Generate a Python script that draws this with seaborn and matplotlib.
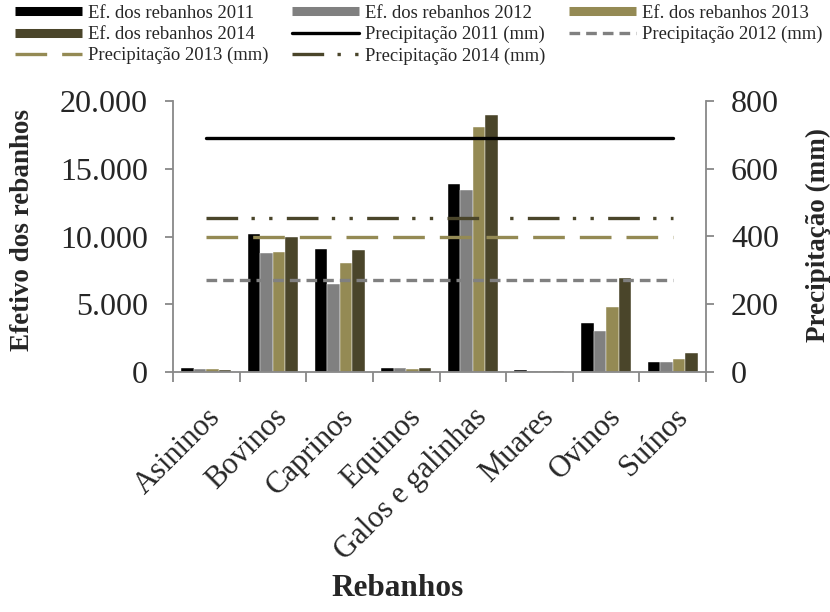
import matplotlib
matplotlib.use("Agg")
import matplotlib.pyplot as plt
from matplotlib.lines import Line2D
from matplotlib.ticker import FuncFormatter, FixedLocator
import numpy as np
import pandas as pd
import seaborn as sns

# Herd counts per category and year
categorias = ["Asininos", "Bovinos", "Caprinos", "Equinos", "Galos e galinhas",
              "Muares", "Ovinos", "Suínos"]
anos = ["2011", "2012", "2013", "2014"]
rebanho_2011 = [300, 10170, 9060, 300, 13870, 120, 3650, 740]
rebanho_2012 = [250, 8790, 6480, 300, 13400, 100, 3000, 710]
rebanho_2013 = [200, 8890, 8030, 250, 18050, 100, 4830, 960]
rebanho_2014 = [170, 9980, 8990, 320, 18990, 70, 6970, 1400]

# Annual rainfall (mm)
precipitacao = [690, 273, 398, 455]

cores = ["#000000", "#808080", "#948A54", "#4A452A"]

sns.set_theme(style="white")
plt.rcParams["font.family"] = ["Liberation Serif", "DejaVu Serif"]

df = pd.DataFrame({
    "Rebanhos": categorias * 4,
    "Ano": np.repeat(anos, len(categorias)),
    "Efetivo": rebanho_2011 + rebanho_2012 + rebanho_2013 + rebanho_2014,
})

fig = plt.figure(figsize=(8.3, 6.12), dpi=100)
ax = fig.add_axes([173 / 830, 1 - 372 / 612, (706 - 173) / 830, (372 - 101) / 612])

sns.barplot(data=df, x="Rebanhos", y="Efetivo", hue="Ano", palette=cores,
            width=0.75, saturation=1, legend=False, ax=ax,
            edgecolor="white", linewidth=0.3)

# Rainfall lines on the secondary axis
ax2 = ax.twinx()
estilos = [
    dict(ls="-"),
    dict(dashes=(3.2, 1.8)),
    dict(dashes=(9.5, 4.5)),
    dict(dashes=(9.5, 4.0, 1.0, 4.3, 1.0, 4.3)),
]
xs = np.arange(len(categorias))
for p, cor, est in zip(precipitacao, cores, estilos):
    ax2.plot(xs, [p] * len(categorias), color=cor, lw=2.4,
             solid_capstyle="round", dash_capstyle="butt", **est)

ax.set_xlim(-0.5, len(categorias) - 0.5)
ax.set_ylim(0, 20000)
ax2.set_ylim(0, 800)
ax.set_yticks(np.arange(0, 20001, 5000))
ax2.set_yticks(np.arange(0, 801, 200))
ax.yaxis.set_major_formatter(FuncFormatter(lambda v, _: f"{int(v):,}".replace(",", ".")))

spine_cor = "#888888"
for a in (ax, ax2):
    for s in a.spines.values():
        s.set_color(spine_cor)
        s.set_linewidth(1.3)
    a.spines["top"].set_visible(False)
ax.spines["right"].set_visible(False)
ax2.spines["left"].set_visible(False)
ax2.spines["bottom"].set_visible(False)

ax.tick_params(axis="y", which="major", direction="out", length=6, width=1.3,
               color=spine_cor, labelsize=23, pad=12, left=True)
ax2.tick_params(axis="y", which="major", direction="out", length=6, width=1.3,
                color=spine_cor, labelsize=23, pad=12, right=True)
ax.xaxis.set_minor_locator(FixedLocator(np.arange(-0.5, len(categorias), 1.0)))
ax.tick_params(axis="x", which="minor", direction="out", length=7, width=1.3,
               color=spine_cor, bottom=True)
ax.tick_params(axis="x", which="major", length=0, labelsize=22, pad=22)
for lbl in ax.get_xticklabels():
    lbl.set_rotation(45)
    lbl.set_ha("right")
    lbl.set_va("top")
    lbl.set_rotation_mode("anchor")

ax.set_xlabel("Rebanhos", fontsize=22.5, fontweight="bold", va="center")
ax.xaxis.set_label_coords(0.422, -0.80)
ax.set_ylabel("Efetivo dos rebanhos", fontsize=19.5, fontweight="bold", va="center")
ax.yaxis.set_label_coords(-0.283, 0.524)
ax2.set_ylabel("Precipitação (mm)", fontsize=19.5, fontweight="bold", va="center")
ax2.yaxis.set_label_coords(1.21, 0.505)
ax.grid(False)
ax2.grid(False)

handles = [
    Line2D([], [], color=cores[0], lw=6.5, solid_capstyle="butt"),
    Line2D([], [], color=cores[3], lw=6.5, solid_capstyle="butt"),
    Line2D([], [], color=cores[2], lw=2.4, dashes=(9.5, 4.5)),
    Line2D([], [], color=cores[1], lw=6.5, solid_capstyle="butt"),
    Line2D([], [], color=cores[0], lw=2.4),
    Line2D([], [], color=cores[3], lw=2.4, dashes=(9.5, 4.0, 1.0, 4.3, 1.0, 4.3)),
    Line2D([], [], color=cores[2], lw=6.5, solid_capstyle="butt"),
    Line2D([], [], color=cores[1], lw=2.4, dashes=(3.2, 1.8)),
]
labels = [
    "Ef. dos rebanhos 2011", "Ef. dos rebanhos 2014", "Precipitação 2013 (mm)",
    "Ef. dos rebanhos 2012", "Precipitação 2011 (mm)", "Precipitação 2014 (mm)",
    "Ef. dos rebanhos 2013", "Precipitação 2012 (mm)",
]
fig.legend(handles, labels, ncol=3, loc="upper left", bbox_to_anchor=(0.018, 0.992),
           frameon=False, fontsize=13.4, handlelength=3.6, handletextpad=0.33,
           columnspacing=1.25, labelspacing=0.22, borderpad=0, borderaxespad=0)

fig.savefig("out.png", dpi=100)
